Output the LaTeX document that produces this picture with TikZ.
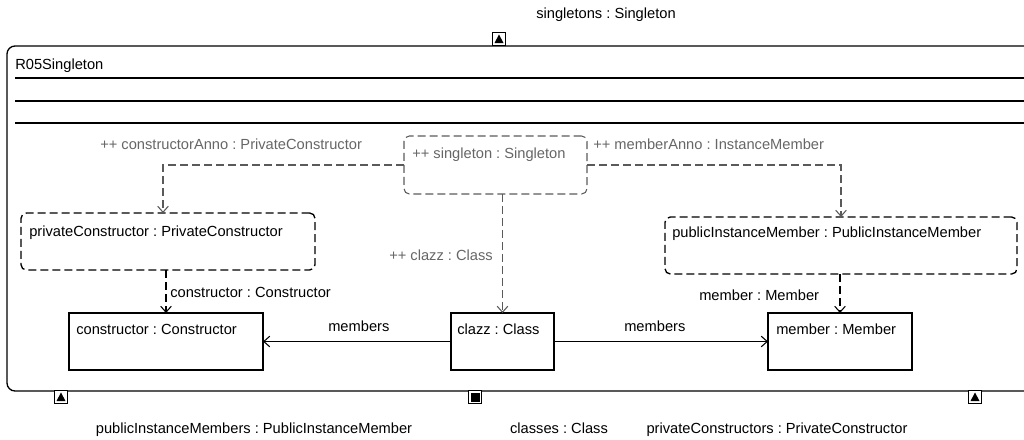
\documentclass[tikz,border=0pt]{standalone}
\usepackage{fontspec}
\setmainfont{Liberation Sans}
\usetikzlibrary{arrows.meta,fit}
\definecolor{annotext}{HTML}{666666}
\definecolor{annoline}{HTML}{5A5A5A}
\frenchspacing
\begin{document}
\begin{tikzpicture}[x=0.75pt,y=-0.75pt,
  font=\fontsize{11}{13}\selectfont,
  box/.style={draw, line width=1pt, inner sep=0pt, outer sep=0pt},
  dbox/.style={box, dash pattern=on 6pt off 3pt, rounded corners=4pt},
  gbox/.style={dbox, draw=annoline, line width=0.8pt},
  txt/.style={anchor=mid west, inner sep=0pt},
  gtxt/.style={txt, text=annotext},
  tip/.style={-{Straight Barb[length=4.5pt,width=8pt]}},
  link/.style={line width=0.8pt, tip},
  dlink/.style={link, dash pattern=on 6pt off 3pt},
  glink/.style={dlink, draw=annoline},
  port/.style={draw, line width=0.8pt, fill=white, minimum size=10pt, inner sep=0pt},
]
\useasboundingbox (0,0) rectangle (1024,439);
\clip (0,0) rectangle (1024,439);

% package frame, running past the right edge
\node[draw, line width=1pt, rounded corners=6pt, inner sep=0pt, fit={(7,46) (1060,391)}] (frame) {};
\node[txt] (title) at (15,66) {R05Singleton};
\draw[line width=1pt] (15,78) -- (1030,78);
\draw[line width=1pt] (15,101) -- (1030,101);
\draw[line width=1pt] (15,123) -- (1030,123);

% ports on the frame
\node[port] (pTop) at (499,39) {};
\fill ([shift={(-4.5,4)}]pTop.center) -- ([shift={(4.5,4)}]pTop.center) -- ([shift={(0,-4.5)}]pTop.center) -- cycle;
\node[port] (pLeft) at (61,397) {};
\fill ([shift={(-4.5,4)}]pLeft.center) -- ([shift={(4.5,4)}]pLeft.center) -- ([shift={(0,-4.5)}]pLeft.center) -- cycle;
\node[port] (pMid) at (475,397) {};
\fill ([shift={(-4.5,-4.5)}]pMid.center) rectangle ([shift={(4.5,4.5)}]pMid.center);
\node[port] (pRight) at (975,397) {};
\fill ([shift={(-4.5,4)}]pRight.center) -- ([shift={(4.5,4)}]pRight.center) -- ([shift={(0,-4.5)}]pRight.center) -- cycle;

\node[anchor=mid, inner sep=0pt] (lTop) at (606,15) {singletons : Singleton};
\node[anchor=mid, inner sep=0pt] (lLeft) at (254,430) {publicInstanceMembers : PublicInstanceMember};
\node[anchor=mid, inner sep=0pt] (lMid) at (559,430) {classes : Class};
\node[anchor=mid, inner sep=0pt] (lRight) at (777,430) {privateConstructors : PrivateConstructor};

% objects
\node[gbox, fit={(404,136) (587,194)}] (single) {};
\node[gtxt] (singleT) at (412,155) {++ singleton : Singleton};

\node[dbox, fit={(21,213) (315,270)}] (priv) {};
\node[txt] (privT) at (29,233) {privateConstructor : PrivateConstructor};

\node[dbox, fit={(665,217) (1017,274)}] (pub) {};
\node[txt] (pubT) at (672,234) {publicInstanceMember : PublicInstanceMember};

\node[box, fit={(69,313) (263,370)}] (cons) {};
\node[txt] (consT) at (76,331) {constructor : Constructor};

\node[box, fit={(451,313) (554,370)}] (clazz) {};
\node[txt] (clazzT) at (457,331) {clazz : Class};

\node[box, fit={(768,313) (912,370)}] (member) {};
\node[txt] (memberT) at (776,331) {member : Member};

% create links from the singleton annotation
\draw[glink] (single.west) -| ([xshift=-3.75pt]priv.north);
\draw[glink] (single.east) -| (pub.north);
\draw[glink] (single.south -| clazz.north) -- (clazz.north);
\node[gtxt] (aCons) at (100,146) {++ constructorAnno : PrivateConstructor};
\node[gtxt] (aMem) at (593,146) {++ memberAnno : InstanceMember};
\node[gtxt] (aClazz) at (389,257) {++ clazz : Class};

% annotation targets
\draw[dlink] (priv.south -| cons.north) -- (cons.north);
\draw[dlink] (pub.south -| member.north) -- (member.north);
\node[txt] (aCon2) at (170,294) {constructor : Constructor};
\node[txt] (aMem2) at (699,297) {member : Member};

% members links
\draw[link] (clazz.west) -- (cons.east);
\draw[link] (clazz.east) -- (member.west);
\node[txt] (m1) at (328,328) {members};
\node[txt] (m2) at (624,328) {members};
\end{tikzpicture}
\end{document}
